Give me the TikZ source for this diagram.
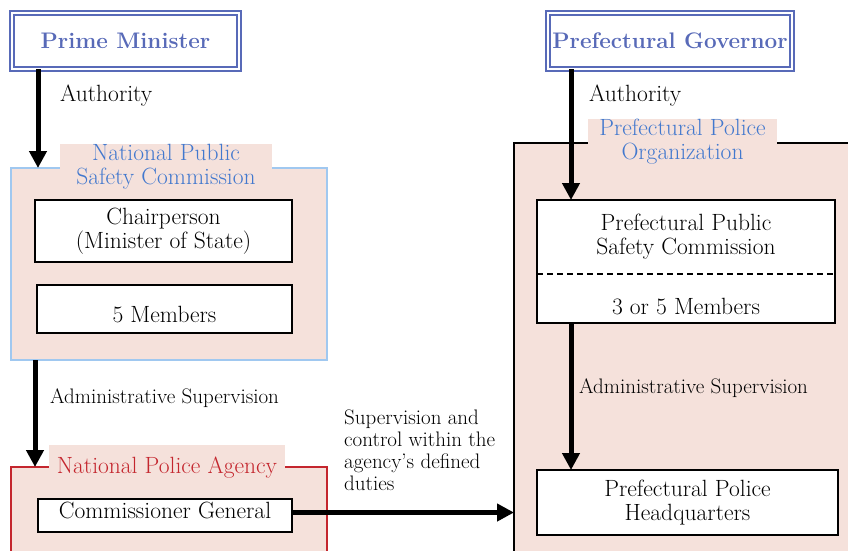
\documentclass[tikz,border=0pt]{standalone}
\usepackage{fontspec}
\usetikzlibrary{arrows.meta}
\definecolor{orgpink}{RGB}{245,225,219}
\definecolor{chiefblue}{RGB}{88,106,184}
\definecolor{titleblue}{RGB}{66,120,206}
\definecolor{edgeblue}{RGB}{160,200,240}
\definecolor{agencyred}{RGB}{196,38,46}
\tikzset{
  headbox/.style={draw=chiefblue, double=white, line width=1.8pt, double distance=2.4pt,
    inner sep=0pt, outer sep=0pt, text=chiefblue, font=\fontsize{22.5}{21}\selectfont\bfseries},
  groupbox/.style={fill=orgpink, line width=1.8pt, inner sep=0pt, outer sep=0pt},
  titlebox/.style={fill=orgpink, inner sep=0pt, outer sep=0pt, align=center,
    font=\fontsize{23.5}{24}\selectfont},
  memberbox/.style={draw, fill=white, line width=1.2pt, inner sep=0pt, outer sep=0pt,
    align=center, font=\fontsize{23.5}{24}\selectfont},
  bodytext/.style={inner sep=0pt, align=center, font=\fontsize{23.5}{24}\selectfont},
  note/.style={inner sep=0pt, align=left, font=\fontsize{21}{22}\selectfont},
  flow/.style={line width=5pt, -{Triangle[width=17pt,length=17pt]}},
}
\begin{document}
\begin{tikzpicture}[x=1pt,y=-1pt]
\clip (0,0) rectangle (848,550);
\fill[white] (0,0) rectangle (848,550);
% heads
\node[headbox, minimum width=227pt, minimum height=56pt] (PM) at (125.5,41) {Prime Minister};
\node[headbox, minimum width=244pt, minimum height=56pt] (PG) at (670,41) {Prefectural Governor};
% group frames
\node[groupbox, draw=edgeblue, minimum width=316pt, minimum height=192pt] (NPSC) at (169,264) {};
\node[groupbox, draw=agencyred, minimum width=316pt, minimum height=140pt] (NPA) at (169,537) {};
\node[groupbox, draw=black, minimum width=400pt, minimum height=460pt] (PPO) at (714,373) {};
% group titles
\node[titlebox, text=titleblue, minimum width=212pt, minimum height=43pt] (NPSCtitle) at (166,166.5) {National Public\\Safety Commission};
\node[titlebox, text=agencyred, minimum width=236pt, minimum height=45pt] (NPAtitle) at (167,467.5) {National Police Agency};
\node[titlebox, text=titleblue, minimum width=189pt, minimum height=43pt] (PPOtitle) at (682.5,141.5) {Prefectural Police\\Organization};
% members
\node[memberbox, minimum width=257pt, minimum height=62pt] (chair) at (163.5,231) {Chairperson\\(Minister of State)};
\node[memberbox, minimum width=255pt, minimum height=48pt] (NPSCmem) at (164.5,309) {};
\node[bodytext] (NPSCmemtext) at ([yshift=-6pt]NPSCmem.center) {5 Members};
\node[memberbox, minimum width=254pt, minimum height=33pt] (CG) at (165,515.5) {};
\node[bodytext] (CGtext) at ([yshift=5pt]CG.center) {Commissioner General};
\node[memberbox, minimum width=298pt, minimum height=123pt] (PPSC) at (686,261.5) {};
\node[bodytext] (PPSCname) at (686,237) {Prefectural Public\\Safety Commission};
\node[bodytext] (PPSCmem) at (686,306.5) {3 or 5 Members};
\coordinate (PPSCsplit) at (686,274);
\draw[line width=1.2pt, dash pattern=on 6pt off 4pt] (PPSC.west |- PPSCsplit) -- (PPSC.east |- PPSCsplit);
\node[memberbox, minimum width=301pt, minimum height=65pt] (PPH) at (687.5,502.5) {Prefectural Police\\Headquarters};
% connectors
\draw[flow] ([xshift=26pt]PM.south west) -- ([xshift=26pt]PM.south west |- NPSC.north);
\draw[flow] ([xshift=24pt]NPSC.south west) -- ([xshift=24pt]NPSC.south west |- NPA.north);
\draw[flow] ([xshift=23pt]PG.south west) -- ([xshift=23pt]PG.south west |- PPSC.north);
\draw[flow] ([xshift=34pt]PPSC.south west) -- ([xshift=34pt]PPSC.south west |- PPH.north);
\draw[flow] ([yshift=3pt]CG.east) -- ([yshift=3pt]CG.east -| PPO.west);
% labels
\node[bodytext, anchor=west] (authL) at (60,96) {Authority};
\node[bodytext, anchor=west] (authR) at (589,96) {Authority};
\node[note, anchor=west] (adminL) at (50,398) {Administrative Supervision};
\node[note, anchor=west] (adminR) at (579,388) {Administrative Supervision};
\node[note, anchor=north west] (ctrl) at (344,410) {Supervision and\\control within the\\agency's defined\\duties};
\end{tikzpicture}
\end{document}
